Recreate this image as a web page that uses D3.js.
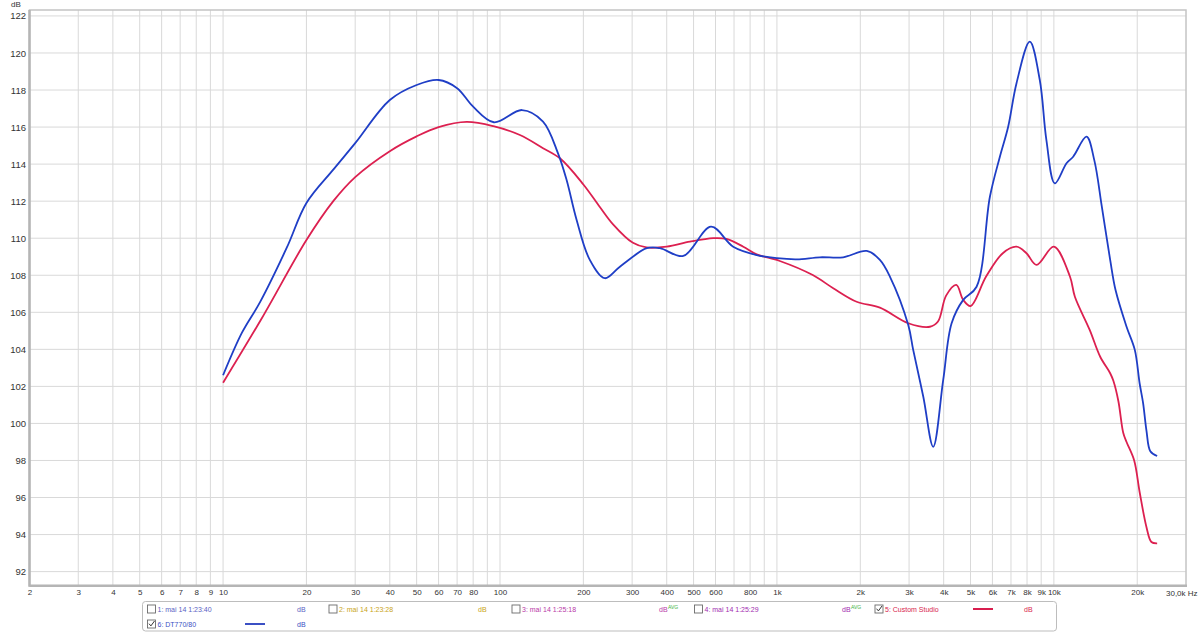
<!DOCTYPE html>
<html>
<head>
<meta charset="utf-8">
<script src="https://cdn.jsdelivr.net/npm/d3@7"></script>
<style>
  html, body { margin: 0; padding: 0; background: #fff; }
  svg { display: block; font-family: "Liberation Sans", Arial, sans-serif; }
</style>
</head>
<body>
<svg id="chart" width="1200" height="634"></svg>
<script>
// ---------- data ----------
const blueFreq = [10, 11.7, 13.6, 17, 20, 25, 30, 40, 50, 60, 70, 80, 95, 120, 143, 162, 174, 189, 211, 239, 271, 339, 378, 459, 578, 695, 845, 1000, 1180, 1430, 1735, 2110, 2354, 2558, 2980, 3105, 3377, 3667, 3985, 4273, 4706, 5259, 5875, 6383, 6839, 7330, 8186, 8895, 9398, 10080, 11110, 11740, 13120, 14000, 14900, 15970, 16700, 18300, 19600, 20400, 21000, 21600, 22300, 23600];
const blueDb   = [102.6, 104.9, 106.55, 109.5, 111.9, 113.7, 115.13, 117.46, 118.27, 118.54, 118.1, 117.1, 116.26, 116.92, 116.3, 114.58, 113.14, 111.0, 108.83, 107.84, 108.46, 109.46, 109.46, 109.04, 110.62, 109.54, 109.09, 108.92, 108.86, 108.97, 108.97, 109.31, 108.83, 107.93, 105.31, 103.97, 101.44, 98.74, 102.35, 105.41, 106.67, 107.38, 112.24, 114.4, 116.02, 118.37, 120.61, 118.54, 115.3, 112.96, 114.05, 114.4, 115.48, 114.2, 111.7, 108.83, 107.2, 105.22, 103.97, 102.17, 101.1, 99.6, 98.5, 98.24];

const redFreq = [10, 13.8, 20, 25, 30, 40, 50, 60, 75.8, 94.6, 118, 143, 165, 200, 229, 256, 302, 338, 400, 485, 589, 657, 756, 845, 1024, 1347, 1597, 1940, 2354, 2980, 3568, 3816, 4082, 4443, 4706, 5003, 5692, 6540, 7330, 7960, 8660, 10000, 11430, 11910, 13470, 14700, 15970, 16400, 17100, 17800, 18300, 19500, 20400, 21600, 22500, 23600];
const redDb   = [102.2, 105.68, 109.9, 112.0, 113.3, 114.7, 115.5, 116.0, 116.28, 116.05, 115.57, 114.86, 114.3, 112.9, 111.7, 110.75, 109.75, 109.5, 109.54, 109.81, 110.0, 109.96, 109.54, 109.13, 108.77, 108.01, 107.3, 106.57, 106.25, 105.41, 105.22, 105.5, 106.9, 107.48, 106.67, 106.34, 107.93, 109.19, 109.54, 109.19, 108.56, 109.54, 107.93, 106.84, 105.05, 103.6, 102.71, 102.3, 101.2, 99.5, 99.0, 98.0, 96.3, 94.4, 93.6, 93.53];

const yTicks = [92, 94, 96, 98, 100, 102, 104, 106, 108, 110, 112, 114, 116, 118, 120, 122];
const xGridValues = [2,3,4,5,6,7,8,9,10,20,30,40,50,60,70,80,90,100,200,300,400,500,600,700,800,900,1000,2000,3000,4000,5000,6000,7000,8000,9000,10000,20000];
const xTickValues = [2,3,4,5,6,7,8,9,10,20,30,40,50,60,70,80,100,200,300,400,500,600,800,1000,2000,3000,4000,5000,6000,7000,8000,9000,10000,20000];
const xTickLabels = ["2","3","4","5","6","7","8","9","10","20","30","40","50","60","70","80","100","200","300","400","500","600","800","1k","2k","3k","4k","5k","6k","7k","8k","9k","10k","20k"];
const xEndLabel = "30,0k Hz";
const yUnitLabel = "dB";

const legendNames   = ["1: mai 14 1:23:40", "2: mai 14 1:23:28", "3: mai 14 1:25:18", "4: mai 14 1:25:29", "5: Custom Studio", "6: DT770/80"];
const legendColors  = ["#5a62c4", "#c9a417", "#b93aa8", "#a22cb0", "#d81e4e", "#3b50c4"];
const legendChecked = [false, false, false, false, true, true];
const legendUnits   = ["dB", "dB", "dB", "dB", "dB", "dB"];
const legendAvg     = [false, false, true, true, false, false];

// ---------- layout ----------
const svg = d3.select("#chart");
const L = 29.5, R = 1186, T = 10, B = 585.7;
const x = d3.scaleLog().domain([2, 30000]).range([L, R]);
const y = d3.scaleLinear().domain([91.24, 122.32]).range([B, T]);

// grid
const g = svg.append("g");
g.selectAll("line.vg").data(xGridValues).enter().append("line")
  .attr("x1", d => x(d)).attr("x2", d => x(d)).attr("y1", T).attr("y2", B)
  .attr("stroke", "#d9d9d9").attr("stroke-width", 1);
g.selectAll("line.hg").data(yTicks).enter().append("line")
  .attr("x1", L).attr("x2", R).attr("y1", d => y(d)).attr("y2", d => y(d))
  .attr("stroke", "#d9d9d9").attr("stroke-width", 1);

// frame
svg.append("rect").attr("x", L).attr("y", T).attr("width", R - L).attr("height", B - T)
  .attr("fill", "none").attr("stroke", "#c4c4c4").attr("stroke-width", 1.5);
svg.append("line").attr("x1", L).attr("x2", L).attr("y1", T).attr("y2", B + 1)
  .attr("stroke", "#b5b5b5").attr("stroke-width", 2.5);
svg.append("line").attr("x1", L).attr("x2", R + 1).attr("y1", B).attr("y2", B)
  .attr("stroke", "#b5b5b5").attr("stroke-width", 2.5);

// y axis labels
const yAxis = d3.axisLeft(y).tickValues(yTicks).tickSize(0).tickPadding(3).tickFormat(d3.format("d"));
const ya = svg.append("g").attr("transform", `translate(${L - 0.5},0)`).call(yAxis);
ya.select(".domain").remove();
ya.selectAll("text").attr("font-size", "9.5px").attr("fill", "#333").attr("font-family", "Liberation Sans, Arial, sans-serif");
svg.append("text").attr("x", 16).attr("y", 7).attr("text-anchor", "middle")
  .attr("font-size", "8px").attr("fill", "#333").text(yUnitLabel);

// x axis labels
const xAxis = d3.axisBottom(x).tickValues(xTickValues).tickSize(0).tickPadding(4)
  .tickFormat((d, i) => xTickLabels[i]);
const xa = svg.append("g").attr("transform", `translate(0,${B})`).call(xAxis);
xa.select(".domain").remove();
xa.selectAll("text").attr("font-size", "8px").attr("fill", "#333").attr("font-family", "Liberation Sans, Arial, sans-serif");
svg.append("text").attr("x", 1166).attr("y", B + 9.8).attr("font-size", "8px").attr("fill", "#333").text(xEndLabel);

// curves
const line = d3.line().x(d => x(d[0])).y(d => y(d[1])).curve(d3.curveCatmullRom.alpha(0.5));
svg.append("path").datum(redFreq.map((f, i) => [f, redDb[i]]))
  .attr("d", line).attr("fill", "none").attr("stroke", "#dc2050").attr("stroke-width", 1.8);
svg.append("path").datum(blueFreq.map((f, i) => [f, blueDb[i]]))
  .attr("d", line).attr("fill", "none").attr("stroke", "#1f3ec6").attr("stroke-width", 1.8);

// legend
const lg = svg.append("g");
lg.append("rect").attr("x", 142.5).attr("y", 601.5).attr("width", 914).attr("height", 29.5).attr("rx", 3)
  .attr("fill", "#fff").attr("stroke", "#bdbdbd").attr("stroke-width", 1);
const itemX = [147.5, 329, 512, 694.5, 875, 147.5];
const itemRow = [0, 0, 0, 0, 0, 1];
const unitX = [297, 478, 659, 842, 1024, 297];
const sampleX = [null, null, null, null, 973, 245];
const rowY = [611.5, 626.5];
legendNames.forEach((name, i) => {
  const by = rowY[itemRow[i]];
  const bx = itemX[i];
  lg.append("rect").attr("x", bx).attr("y", by - 6.5).attr("width", 8).attr("height", 8)
    .attr("fill", "#fff").attr("stroke", "#6a6a6a").attr("stroke-width", 0.9);
  if (legendChecked[i]) {
    lg.append("path").attr("d", `M${bx + 1.5},${by - 2.8} L${bx + 3.4},${by - 0.6} L${bx + 7},${by - 5.5}`)
      .attr("fill", "none").attr("stroke", "#333").attr("stroke-width", 1);
  }
  lg.append("text").attr("x", bx + 10).attr("y", by).attr("font-size", "7px").attr("fill", legendColors[i]).text(name);
  if (sampleX[i] !== null) {
    lg.append("line").attr("x1", sampleX[i]).attr("x2", sampleX[i] + 20).attr("y1", by - 2.5).attr("y2", by - 2.5)
      .attr("stroke", legendColors[i]).attr("stroke-width", 2);
  }
  lg.append("text").attr("x", unitX[i]).attr("y", by).attr("font-size", "7px").attr("fill", legendColors[i]).text(legendUnits[i]);
  if (legendAvg[i]) {
    lg.append("text").attr("x", unitX[i] + 9).attr("y", by - 3).attr("font-size", "5px").attr("fill", "#3cb43c").text("AVG");
  }
});
</script>
</body>
</html>
